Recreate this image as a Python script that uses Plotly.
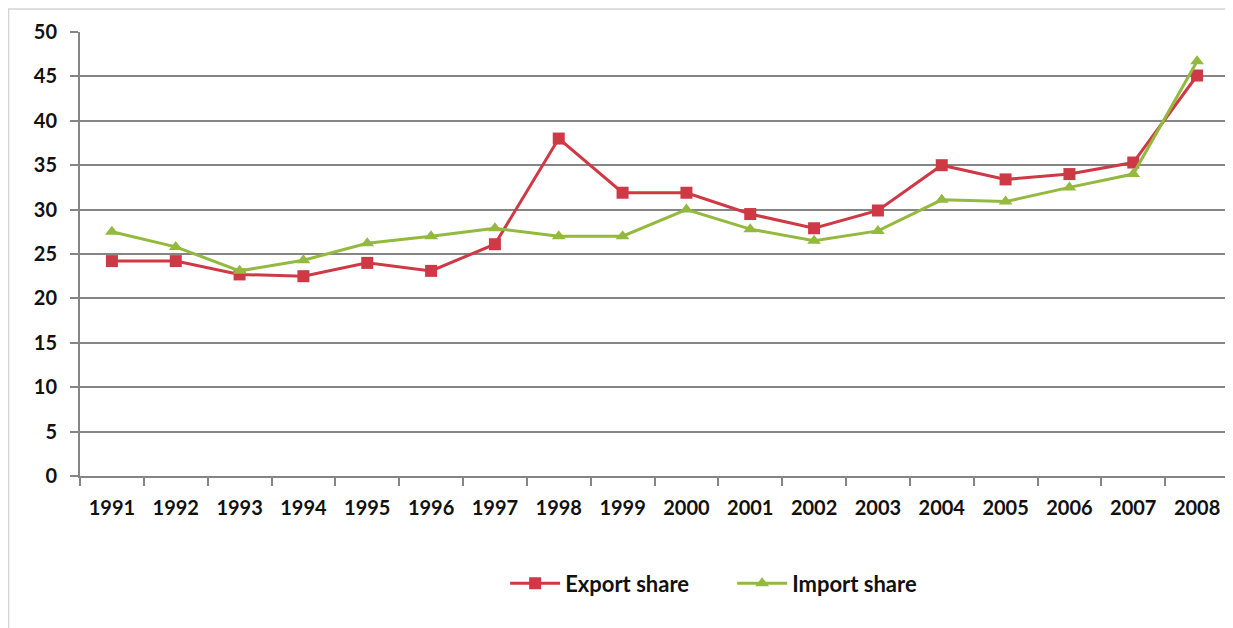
import plotly.graph_objects as go

# Values
years = [str(y) for y in range(1991, 2009)]
export_share = [24.2, 24.2, 22.7, 22.5, 24.0, 23.1, 26.1, 38.0, 31.9, 31.9,
                29.5, 27.9, 29.9, 35.0, 33.4, 34.0, 35.3, 45.1]
import_share = [27.5, 25.8, 23.1, 24.3, 26.2, 27.0, 27.9, 27.0, 27.0, 30.0,
                27.8, 26.5, 27.6, 31.1, 30.9, 32.5, 34.0, 46.7]
y_ticks = list(range(0, 51, 5))

RED = "#cf3845"
GREEN = "#93b93e"
GRID = "#858585"
FONT = dict(family="Lato", size=20, color="#111111", weight="bold")

fig = go.Figure()

fig.add_trace(go.Scatter(
    x=years, y=export_share, name="Export share",
    mode="lines+markers",
    line=dict(color=RED, width=3),
    marker=dict(symbol="square", size=12, color=RED)
))

fig.add_trace(go.Scatter(
    x=years, y=import_share, name="Import share",
    mode="lines+markers",
    line=dict(color=GREEN, width=3),
    marker=dict(symbol="triangle-up", size=12, color=GREEN)
))

# the page body has an 8px margin, so the figure is 8px smaller than the window
fig.update_layout(
    width=1225, height=620,
    margin=dict(l=72, r=4, t=24, b=152),
    paper_bgcolor="white", plot_bgcolor="white",
    font=FONT,
    showlegend=True,
    legend=dict(
        orientation="h", x=0.37, xanchor="left", y=-0.242, yanchor="middle",
        font=dict(family="Lato", size=22, color="#111111", weight="bold"),
        itemwidth=50, entrywidth=162, entrywidthmode="pixels",
        bgcolor="rgba(0,0,0,0)"
    ),
    shapes=[dict(
        type="rect", xref="paper", yref="paper",
        x0=-0.0622, x1=1.1, y0=-0.4, y1=1.052,
        line=dict(color="#d4d4d4", width=1.5), layer="below"
    )]
)

fig.update_xaxes(
    type="category", range=[-0.5, len(years) - 0.5],
    showline=True, linecolor=GRID, linewidth=2,
    ticks="outside", tickson="boundaries", ticklen=8, tickcolor=GRID, tickwidth=1.5,
    showgrid=False, ticklabelstandoff=13,
    tickfont=FONT
)

fig.update_yaxes(
    range=[0, 50], tickvals=y_ticks,
    showline=True, linecolor=GRID, linewidth=2,
    ticks="outside", ticklen=8, tickcolor=GRID, tickwidth=1.5,
    showgrid=True, gridcolor=GRID, gridwidth=1.5,
    zeroline=False, ticklabelstandoff=9,
    tickfont=FONT
)

fig.write_html("out.html")
